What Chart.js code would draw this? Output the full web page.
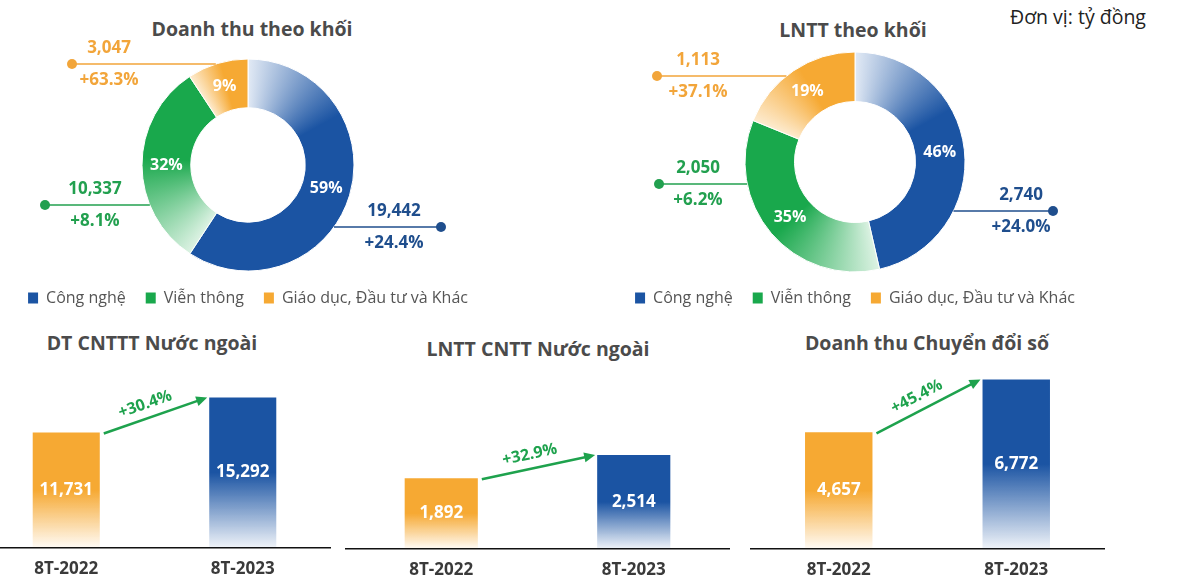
<!DOCTYPE html>
<html lang="vi">
<head>
<meta charset="utf-8">
<title>Kết quả kinh doanh 8T-2023</title>
<script src="https://cdn.jsdelivr.net/npm/chart.js@4.4.0/dist/chart.umd.min.js"></script>
<style>
    html, body { margin: 0; padding: 0; background: #fff; }
    body {
        width: 1194px; height: 588px; position: relative; overflow: hidden;
        font-family: 'Open Sans', 'Noto Sans', sans-serif;
    }
    canvas { position: absolute; }
    .title {
        position: absolute; transform: translate(-50%, -50%);
        font-weight: 700; font-size: 19.5px; line-height: 1; color: #4b4b4b; white-space: nowrap;
    }
    .unit {
        position: absolute; left: 1010px; top: 17px; transform: translateY(-50%);
        font-size: 19.5px; line-height: 1; color: #222; white-space: nowrap;
    }
</style>
</head>
<body>

<div class="title" style="left:252px; top:29px">Doanh thu theo khối</div>
<div class="title" style="left:853px; top:30px">LNTT theo khối</div>
<div class="unit">Đơn vị: tỷ đồng</div>
<div class="title" style="left:152px; top:343px">DT CNTTT Nước ngoài</div>
<div class="title" style="left:538px; top:349px">LNTT CNTT Nước ngoài</div>
<div class="title" style="left:927px; top:343px">Doanh thu Chuyển đổi số</div>

<canvas id="donutRevenue" width="496" height="316" style="left:0; top:0"></canvas>
<canvas id="donutProfit" width="496" height="316" style="left:607px; top:0"></canvas>
<canvas id="barItRevenue" width="353" height="220" style="left:-22px; top:370px"></canvas>
<canvas id="barItProfit" width="385" height="221" style="left:345px; top:370px"></canvas>
<canvas id="barDigital" width="355" height="221" style="left:750px; top:370px"></canvas>

<script>
// ====== DATA ======
const SEGMENTS = ['Công nghệ', 'Viễn thông', 'Giáo dục, Đầu tư và Khác'];

const revenueByBlock = [19442, 10337, 3047];
const revenueShare   = [59, 32, 9];
const revenueGrowth  = [24.4, 8.1, 63.3];

const profitByBlock = [2740, 2050, 1113];
const profitShare   = [46, 35, 19];
const profitGrowth  = [24.0, 6.2, 37.1];

const PERIODS = ['8T-2022', '8T-2023'];
const itRevenueAbroad = [11731, 15292];
const itProfitAbroad  = [1892, 2514];
const digitalRevenue  = [4657, 6772];
const itRevenueGrowth = 30.4;
const itProfitGrowth  = 32.9;
const digitalGrowth   = 45.4;

// ====== COLORS ======
const FONT = "'Open Sans', 'Noto Sans', sans-serif";
const SEG_COLORS = [
    { dark: '#1b54a3', light: '#e2eaf5', text: '#1f4e8d' },
    { dark: '#19a84c', light: '#dcf2e3', text: '#22a04f' },
    { dark: '#f6a933', light: '#fdebcf', text: '#f2a53a' },
];
const BAR_COLORS = [
    { solid: '#f6a933', fade: 'rgba(246,169,51,0.05)' },
    { solid: '#1b54a3', fade: 'rgba(27,84,163,0.07)' },
];
const ARROW_GREEN = '#1ea24d';

Chart.defaults.font.family = FONT;
Chart.defaults.animation = false;

const fmt = v => v.toLocaleString('en-US');
const pct = v => '+' + v.toFixed(1) + '%';

// ====== DOUGHNUT HELPERS ======
function ringFill(values) {
    return ctx => {
        const c = SEG_COLORS[ctx.dataIndex];
        const area = ctx.chart.chartArea;
        if (!area || ctx.type !== 'data') return c.dark;
        const total = values.reduce((a, b) => a + b, 0);
        let before = 0;
        for (let k = 0; k < ctx.dataIndex; k++) before += values[k];
        const span = values[ctx.dataIndex] / total;
        const cx = (area.left + area.right) / 2;
        const cy = (area.top + area.bottom) / 2;
        const g = ctx.chart.ctx.createConicGradient(-Math.PI / 2 + before / total * 2 * Math.PI, cx, cy);
        g.addColorStop(0, c.light);
        g.addColorStop(Math.min(0.17, span * 0.55), c.dark);
        g.addColorStop(1, c.dark);
        return g;
    };
}

// percentages inside ring + callouts with value and growth
const donutLabels = {
    id: 'donutLabels',
    afterDatasetsDraw(chart, args, opts) {
        const { ctx } = chart;
        const values = chart.data.datasets[0].data;
        ctx.save();
        chart.getDatasetMeta(0).data.forEach((arc, i) => {
            const { x, y, startAngle, endAngle, innerRadius, outerRadius } =
                arc.getProps(['x', 'y', 'startAngle', 'endAngle', 'innerRadius', 'outerRadius'], true);
            const mid = (startAngle + endAngle) / 2;
            const rr = (innerRadius + outerRadius) / 2;
            ctx.font = `700 16px ${FONT}`;
            ctx.fillStyle = '#fff';
            ctx.textAlign = 'center';
            ctx.textBaseline = 'middle';
            ctx.fillText(opts.shares[i] + '%', x + Math.cos(mid) * rr, y + Math.sin(mid) * rr);

            const c = opts.callouts[i];
            const col = SEG_COLORS[i].text;
            const ly = y + c.dy;
            const edge = Math.sqrt(Math.max(outerRadius * outerRadius - c.dy * c.dy, 0));
            const ex = c.dot > 0 ? x + edge : x - edge;
            ctx.strokeStyle = col;
            ctx.lineWidth = 1.5;
            ctx.beginPath();
            ctx.moveTo(ex, ly);
            ctx.lineTo(x + c.dot, ly);
            ctx.stroke();
            ctx.fillStyle = col;
            ctx.beginPath();
            ctx.arc(x + c.dot, ly, 5, 0, Math.PI * 2);
            ctx.fill();
            ctx.font = `700 17px ${FONT}`;
            ctx.fillText(fmt(values[i]), x + c.text, ly - 16);
            ctx.fillText(pct(opts.growth[i]), x + c.text, ly + 16);
        });
        ctx.restore();
    }
};

function makeDonut(id, values, shares, growth, radius, cutout, padTop, callouts) {
    new Chart(document.getElementById(id), {
        type: 'doughnut',
        data: {
            labels: SEGMENTS,
            datasets: [{
                data: values,
                backgroundColor: ringFill(values),
                borderWidth: 1,
                borderColor: '#fff',
            }]
        },
        options: {
            responsive: false,
            radius: radius,
            cutout: cutout,
            layout: { padding: { top: padTop } },
            plugins: {
                tooltip: { enabled: false },
                legend: {
                    position: 'bottom',
                    labels: {
                        boxWidth: 10,
                        boxHeight: 11,
                        padding: 20,
                        color: '#555',
                        font: { size: 16 },
                        generateLabels: () => SEGMENTS.map((t, i) => ({
                            text: t, fillStyle: SEG_COLORS[i].dark, strokeStyle: SEG_COLORS[i].dark,
                            lineWidth: 0, hidden: false, index: i, fontColor: '#555'
                        }))
                    }
                },
                donutLabels: { shares, growth, callouts }
            }
        },
        plugins: [donutLabels]
    });
}

makeDonut('donutRevenue', revenueByBlock, revenueShare, revenueGrowth, 106, '54%', 60, [
    { dy: 62, dot: 193, text: 146 },
    { dy: 40, dot: -203, text: -153 },
    { dy: -101, dot: -176, text: -139 },
]);
makeDonut('donutProfit', profitByBlock, profitShare, profitGrowth, 110, '55%', 54, [
    { dy: 49, dot: 198, text: 166 },
    { dy: 22, dot: -196, text: -157 },
    { dy: -86, dot: -198, text: -157 },
]);

// ====== BAR HELPERS ======
function barFill(ctx) {
    const b = BAR_COLORS[ctx.dataIndex];
    const chart = ctx.chart;
    if (!chart.chartArea || ctx.type !== 'data') return b.solid;
    const top = chart.scales.y.getPixelForValue(ctx.raw);
    const bottom = chart.scales.y.getPixelForValue(0);
    const g = chart.ctx.createLinearGradient(0, top, 0, bottom);
    g.addColorStop(0, b.solid);
    g.addColorStop(0.5, b.solid);
    g.addColorStop(1, b.fade);
    return g;
}

// value inside each bar + growth arrow between them
const barLabels = {
    id: 'barLabels',
    afterDatasetsDraw(chart, args, opts) {
        const { ctx } = chart;
        const bars = chart.getDatasetMeta(0).data;
        const values = chart.data.datasets[0].data;
        ctx.save();
        ctx.font = `700 17px ${FONT}`;
        ctx.fillStyle = '#fff';
        ctx.textAlign = 'center';
        ctx.textBaseline = 'middle';
        bars.forEach((b, i) => ctx.fillText(fmt(values[i]), b.x, (b.y + b.base) / 2));

        const a = bars[0], c = bars[1];
        const x1 = a.x + a.width / 2 + 4, y1 = a.y + 1;
        const x2 = c.x - c.width / 2 - 2, y2 = c.y;
        const ang = Math.atan2(y2 - y1, x2 - x1);
        const cos = Math.cos(ang), sin = Math.sin(ang);
        ctx.strokeStyle = ARROW_GREEN;
        ctx.fillStyle = ARROW_GREEN;
        ctx.lineWidth = 2.5;
        ctx.beginPath();
        ctx.moveTo(x1, y1);
        ctx.lineTo(x2 - 8 * cos, y2 - 8 * sin);
        ctx.stroke();
        ctx.beginPath();
        ctx.moveTo(x2, y2);
        ctx.lineTo(x2 - 11 * cos + 5 * sin, y2 - 11 * sin - 5 * cos);
        ctx.lineTo(x2 - 11 * cos - 5 * sin, y2 - 11 * sin + 5 * cos);
        ctx.closePath();
        ctx.fill();

        const mx = (x1 + x2) / 2 + 14 * sin - 6 * cos;
        const my = (y1 + y2) / 2 - 14 * cos - 6 * sin;
        ctx.translate(mx, my);
        ctx.rotate(ang);
        ctx.font = `700 16px ${FONT}`;
        ctx.fillText(pct(opts.growth), 0, 0);
        ctx.restore();
    }
};

function makeBars(id, values, yMax, growth) {
    new Chart(document.getElementById(id), {
        type: 'bar',
        data: {
            labels: PERIODS,
            datasets: [{
                data: values,
                backgroundColor: barFill,
                categoryPercentage: 1,
                barPercentage: 0.38,
            }]
        },
        options: {
            responsive: false,
            layout: { padding: 0 },
            plugins: {
                legend: { display: false },
                tooltip: { enabled: false },
                barLabels: { growth }
            },
            scales: {
                y: { display: false, min: 0, max: yMax },
                x: {
                    grid: { display: false, drawTicks: false },
                    border: { display: true, color: '#111', width: 1.5 },
                    ticks: { color: '#3a3a3a', padding: 11, font: { size: 17, weight: '700' } }
                }
            }
        },
        plugins: [barLabels]
    });
}

makeBars('barItRevenue', itRevenueAbroad, 18100, itRevenueGrowth);
makeBars('barItProfit', itProfitAbroad, 4800, itProfitGrowth);
makeBars('barDigital', digitalRevenue, 7150, digitalGrowth);
</script>
</body>
</html>
